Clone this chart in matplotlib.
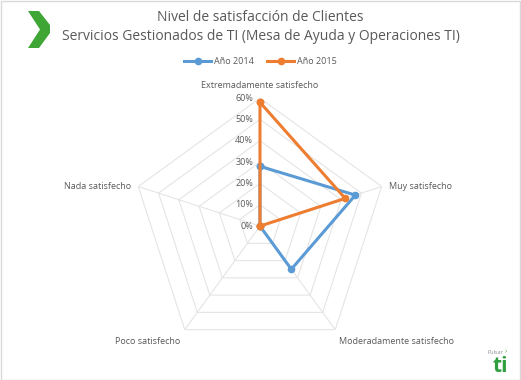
import numpy as np
import matplotlib.pyplot as plt
from matplotlib.patches import Polygon, Rectangle

# ---------------- DATA ----------------
categories = ["Extremadamente satisfecho", "Muy satisfecho", "Moderadamente satisfecho",
              "Poco satisfecho", "Nada satisfecho"]
anio_2014 = [28, 47, 25, 0, 0]
anio_2015 = [58, 42, 0, 0, 0]
series_names = ["Año 2014", "Año 2015"]
ticks = [0, 10, 20, 30, 40, 50, 60]
tick_labels = ["0%", "10%", "20%", "30%", "40%", "50%", "60%"]

title = "Nivel de satisfacción de Clientes\nServicios Gestionados de TI (Mesa de Ayuda y Operaciones TI)"

plt.rcParams['font.family'] = ['Open Sans', 'DejaVu Sans']
txt = "#595959"
grid_c = "#E3E3E3"
c14 = "#5B9BD5"
c15 = "#ED7D31"

fig = plt.figure(figsize=(5.21, 3.80), dpi=100)
fig.patches.append(Rectangle((0.001, 0.001), 0.997, 0.996, transform=fig.transFigure,
                             fill=False, edgecolor="#D9D9D9", linewidth=1))

ax = fig.add_axes([0.2533, 0.0682, 0.4914, 0.6737], projection="polar")
ax.set_theta_offset(np.pi / 2)
ax.set_theta_direction(-1)
ax.set_ylim(0, 60)
ax.grid(False)
ax.spines["polar"].set_visible(False)
ax.set_xticks([])
ax.set_yticks([])
ax.patch.set_alpha(0)

n = len(categories)
angles = np.linspace(0, 2 * np.pi, n, endpoint=False)
closed = np.append(angles, angles[0])

# pentagon grid
for t in ticks[1:]:
    ax.plot(closed, [t] * (n + 1), color=grid_c, lw=0.75, zorder=1)
for a in angles:
    ax.plot([a, a], [0, 60], color=grid_c, lw=0.75, zorder=1)

# tick labels
for t, lab in zip(ticks, tick_labels):
    ax.annotate(lab, xy=(0, t), xytext=(-5, 0), textcoords="offset points",
                ha="right", va="center", fontsize=6.5, color=txt)

# category labels
label_pos = [
    (0, 60, 0, 6, "center", "bottom"),
    (angles[1], 60, 5, 0, "left", "center"),
    (angles[2], 60, 3, -5, "left", "top"),
    (angles[3], 60, -3, -5, "right", "top"),
    (angles[4], 60, -5, 0, "right", "center"),
]
for cat, (a, r, dx, dy, ha, va) in zip(categories, label_pos):
    ax.annotate(cat, xy=(a, r), xytext=(dx, dy), textcoords="offset points",
                ha=ha, va=va, fontsize=6.5, color=txt)

# series
for vals, col, name in [(anio_2014, c14, series_names[0]), (anio_2015, c15, series_names[1])]:
    v = np.append(vals, vals[0])
    ax.plot(closed, v, color=col, lw=2.2, marker="o", markersize=4.5, label=name, zorder=3,
            clip_on=False)

fig.text(0.5, 1 - 27 / 380, title, ha="center", va="center", fontsize=10, color=txt,
         linespacing=1.35)

fig.legend(loc="center", bbox_to_anchor=(0.5, 1 - 62 / 380), ncol=2, frameon=False, fontsize=6.5,
           labelcolor=txt, handlelength=3, columnspacing=1.5, handletextpad=0.3)

# logo chevron
W, H = 521, 380
pts = [(28, 11), (39, 11), (50, 25), (50, 33), (39, 48), (28, 48), (40, 29.5)]
fig.patches.append(Polygon([(x / W, 1 - y / H) for x, y in pts], closed=True,
                           transform=fig.transFigure, facecolor="#3FA535", edgecolor="none"))

# Pulsar ti logo
fig.text(503 / W, 1 - 352 / H, "Pulsar", ha="right", va="center", fontsize=4, color="#8C8C8C")
fig.text(505 / W, 1 - 352 / H, "\u203A", ha="left", va="center", fontsize=5, color="#3FA535")
fig.text(500 / W, 1 - 367 / H, "ti", ha="center", va="center", fontsize=15, color="#2E9E3E",
         fontweight="bold")

fig.savefig("out.png", dpi=100)
